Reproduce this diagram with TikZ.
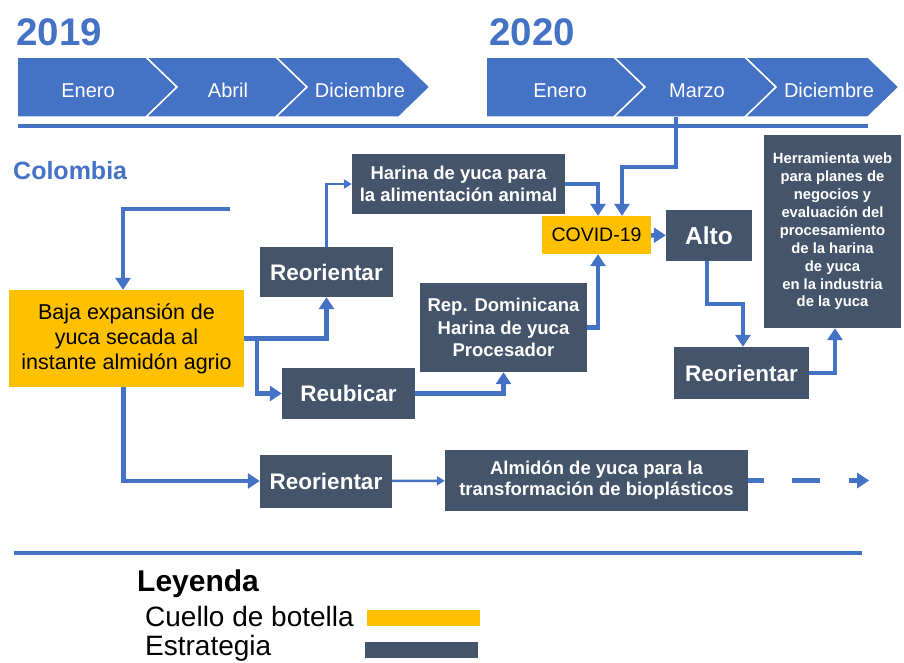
\documentclass[tikz,border=0pt]{standalone}
\usepackage{fontspec}
\setmainfont{Liberation Sans}
\usetikzlibrary{arrows.meta}
\definecolor{azul}{HTML}{4472C4}
\definecolor{pizarra}{HTML}{44546A}
\definecolor{ambar}{HTML}{FFC000}

\tikzset{
  estrategia/.style={fill=pizarra, text=white, align=center, inner sep=0pt},
  cuello/.style={fill=ambar, text=black, align=center, inner sep=0pt},
  conn/.style={draw=azul, line width=4.5pt, -{Triangle[width=15pt,length=12pt]}},
  thinconn/.style={draw=azul, line width=2.5pt, -{Triangle[width=9pt,length=8pt]}},
  titulo/.style={text=azul, anchor=base west, inner sep=0pt, font=\bfseries\fontsize{38.5}{40}\selectfont},
  mes/.style={text=white, anchor=base, inner sep=0pt, font=\fontsize{20}{22}\selectfont}
}

\begin{document}
\begin{tikzpicture}[x=1pt,y=-1pt]
  \useasboundingbox (0,0) rectangle (904,662);

  \node[titulo] (y19) at (16,45) {2019};
  \node[titulo] (y20) at (489,45) {2020};
  \foreach \l/\r/\n/\lx/\mes in {17/146/0/88/Enero, 146/276/31/228/Abril, 276/399/31/360/Diciembre,
                                 486/614/0/560/Enero, 614/745/31/697/Marzo, 745/868/31/829/Diciembre}
  {
    \filldraw[fill=azul, draw=white, line width=1.5pt]
      (\l,57) -- (\r,57) -- (\r+31,87) -- (\r,117) -- (\l,117) -- (\l+\n,87) -- cycle;
    \node[mes] (m-\l) at (\lx,97) {\mes};
  }
  \draw[azul, line width=4.5pt] (18,126) -- (868,126);
  \coordinate (marzo) at (676,117);

  \node[text=azul, anchor=base west, inner sep=0pt, font=\bfseries\fontsize{25}{27}\selectfont] (col) at (13,179) {Colombia};
  \coordinate (inicio) at (230,209);

  \node[cuello, minimum width=235, minimum height=97, font=\fontsize{21.5}{25}\selectfont] (baja) at (126.5,338.5)
    {Baja expansión de\\yuca secada al\\instante almidón agrio};
  \node[estrategia, minimum width=133, minimum height=50, font=\bfseries\fontsize{22.5}{26}\selectfont] (reo1) at (326.5,272) {Reorientar};
  \node[estrategia, minimum width=133, minimum height=51, font=\bfseries\fontsize{22.5}{26}\selectfont] (reub) at (348.5,393.5) {Reubicar};
  \node[estrategia, minimum width=213, minimum height=60, font=\bfseries\fontsize{18.5}{22}\selectfont] (harina) at (458.5,184)
    {Harina de yuca para\\la alimentación animal};
  \node[estrategia, minimum width=167, minimum height=89, font=\bfseries\fontsize{18.5}{22.5}\selectfont] (rep) at (503.5,327.5)
    {Rep. Dominicana\\Harina de yuca\\Procesador};
  \node[cuello, minimum width=109, minimum height=38, font=\fontsize{19.5}{22}\selectfont] (covid) at (596.5,235) {COVID-19};
  \node[estrategia, minimum width=86, minimum height=51, font=\bfseries\fontsize{24.5}{27}\selectfont] (alto) at (709,235.5) {Alto};
  \node[estrategia, minimum width=135, minimum height=52, font=\bfseries\fontsize{22.5}{26}\selectfont] (reo2) at (741.5,373) {Reorientar};
  \node[estrategia, minimum width=137, minimum height=193, font=\bfseries\fontsize{14.8}{17.9}\selectfont] (herr) at (832.5,231.5)
    {Herramienta web\\para planes de\\negocios y\\evaluación del\\procesamiento\\de la harina\\de yuca\\en la industria\\de la yuca};
  \node[estrategia, minimum width=132, minimum height=53, font=\bfseries\fontsize{22.5}{26}\selectfont] (reo3) at (326,481) {Reorientar};
  \node[estrategia, minimum width=303, minimum height=61, font=\bfseries\fontsize{18.5}{21}\selectfont] (almidon) at (596.5,480.5)
    {Almidón de yuca para la\\transformación de bioplásticos};

  \draw[conn] (inicio) -| ([xshift=-3.5]baja.north);
  \draw[conn] (baja.east) -| (reo1.south);
  \draw[conn] (baja.east) -- ++(13,0) |- (reub.west);
  \draw[thinconn] (reo1.north) |- (harina.west);
  \draw[conn] (harina.east) -| ([xshift=1.5]covid.north);
  \draw[conn] (marzo) -- ++(0,50) -| ([xshift=25.5]covid.north);
  \draw[conn] (reub.east) -| (rep.south);
  \draw[conn] (rep.east) -| ([xshift=1.5]covid.south);
  \draw[conn] (covid) -- (alto);
  \draw[conn] ([xshift=-2]alto.south) -- ++(0,43) -| ([xshift=1.5]reo2.north);
  \draw[conn] (reo2.east) -| ([xshift=2.5]herr.south);
  \draw[conn] ([xshift=-3]baja.south) |- (reo3.west);
  \draw[thinconn] (reo3) -- (almidon);
  \draw[conn, dash pattern=on 16pt off 28pt on 28pt off 29pt] (almidon.east) -- ++(121,0);

  \draw[azul, line width=4.5pt] (14,553) -- (862,553);

  \node[anchor=base west, inner sep=0pt, font=\bfseries\fontsize{30}{31}\selectfont] (ley) at (137,591) {Leyenda};
  \node[anchor=base west, inner sep=0pt, font=\fontsize{28}{29}\selectfont] (leyc) at (145,626) {Cuello de botella};
  \node[anchor=base west, inner sep=0pt, font=\fontsize{28}{29}\selectfont] (leye) at (145,655) {Estrategia};
  \node[fill=ambar, minimum width=113, minimum height=16, inner sep=0pt] (barc) at (423.5,618) {};
  \node[fill=pizarra, minimum width=113, minimum height=16, inner sep=0pt] (bare) at (421.5,650) {};
\end{tikzpicture}
\end{document}
